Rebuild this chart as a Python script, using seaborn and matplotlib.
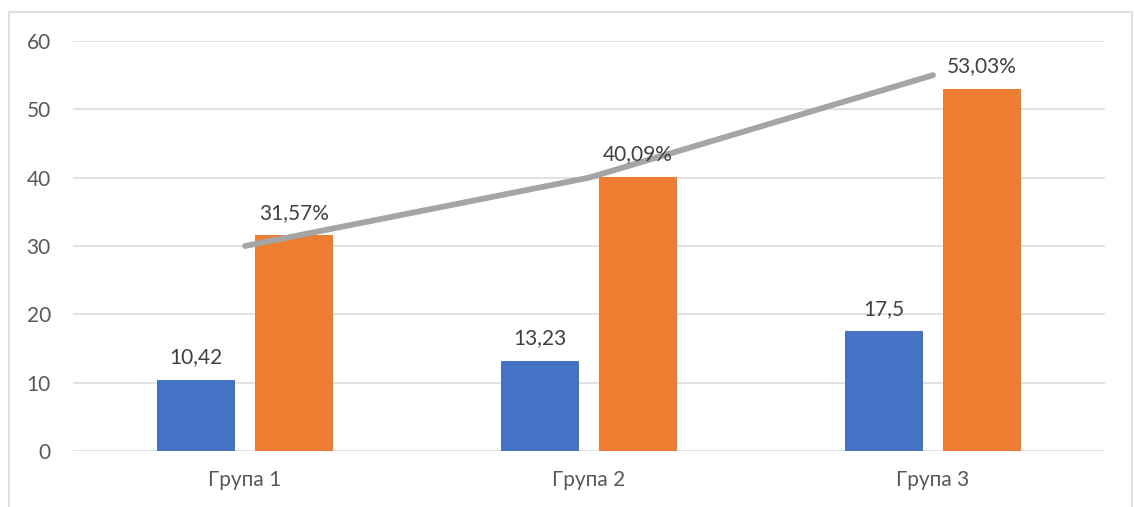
import matplotlib
matplotlib.use("Agg")
import matplotlib.pyplot as plt
import seaborn as sns
import pandas as pd
import numpy as np
from matplotlib.patches import Rectangle

categories = ["Група 1", "Група 2", "Група 3"]
series_names = ["Ряд 1", "Ряд 2"]
series1 = [10.42, 13.23, 17.5]
series2 = [31.57, 40.09, 53.03]
trend = [30, 40, 55]
labels1 = ["10,42", "13,23", "17,5"]
labels2 = ["31,57%", "40,09%", "53,03%"]
yticks = [0, 10, 20, 30, 40, 50, 60]

sns.set_theme(style="white")
plt.rcParams['font.family'] = ['Lato', 'Open Sans', 'DejaVu Sans']

df = pd.DataFrame({
    "cat": categories * 2,
    "series": [series_names[0]] * 3 + [series_names[1]] * 3,
    "value": series1 + series2,
})

fig = plt.figure(figsize=(11.34, 5.07), dpi=100)
ax = fig.add_axes([73/1134, 1-451/507, (1105-73)/1134, (451-41)/507])

sns.barplot(data=df, x="cat", y="value", hue="series", order=categories,
            hue_order=series_names, palette=["#4472C4", "#ED7D31"],
            width=0.57, gap=0.214, ax=ax, legend=False, zorder=2,
            saturation=1, linewidth=0)

sns.lineplot(x=np.arange(len(categories)), y=trend, ax=ax, color="#A5A5A5",
             linewidth=4.2, zorder=3, solid_capstyle="round")

# data labels
for container, labs in zip(ax.containers, [labels1, labels2]):
    for patch, lab in zip(container, labs):
        x = patch.get_x() + patch.get_width() / 2
        y = patch.get_height()
        ax.annotate(lab, (x, y), xytext=(0, 12), textcoords="offset points",
                    ha="center", va="baseline", fontsize=15, color="#404040",
                    zorder=5)

ax.set_xlim(-0.5, len(categories) - 0.5)
ax.set_ylim(0, 60)
ax.set_yticks(yticks)
ax.set_yticklabels([str(t) for t in yticks])
ax.yaxis.grid(True, color="#D9D9D9", linewidth=1.1, zorder=0)
ax.set_axisbelow(True)
for s in ax.spines.values():
    s.set_visible(False)
ax.tick_params(axis="both", length=0, labelsize=15, labelcolor="#595959")
ax.tick_params(axis="y", pad=16)
ax.tick_params(axis="x", pad=14)
ax.set_xlabel("")
ax.set_ylabel("")

fig.patches.append(Rectangle((9/1134, -0.05), (1132-9)/1134, 1-12/507+0.05,
                             transform=fig.transFigure, fill=False,
                             edgecolor="#D9D9D9", linewidth=1.2, zorder=0))

fig.savefig("out.png", dpi=100)
